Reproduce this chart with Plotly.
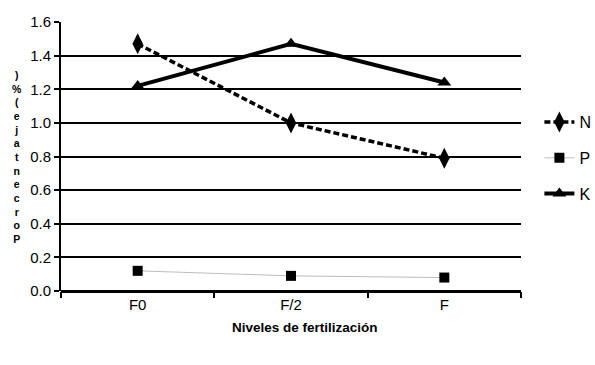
import plotly.graph_objects as go

categories = ["F0", "F/2", "F"]
n_vals = [1.47, 1.00, 0.79]
p_vals = [0.12, 0.09, 0.08]
k_vals = [1.22, 1.47, 1.24]
y_ticks = [0.0, 0.2, 0.4, 0.6, 0.8, 1.0, 1.2, 1.4, 1.6]
y_tick_labels = ["0.0", "0.2", "0.4", "0.6", "0.8", "1.0", "1.2", "1.4", "1.6"]
y_title = "Porcentaje (%)"
x_title = "Niveles de fertilización"

fig = go.Figure()
fig.add_trace(go.Scatter(x=categories, y=n_vals, name="N", mode="lines+markers", legendgroup="n",
                         line=dict(color="black", width=3.5, dash="6px,3px"),
                         marker=dict(symbol="diamond-tall", size=15, color="black")))
fig.add_trace(go.Scatter(x=categories, y=p_vals, name="P", mode="lines+markers", legendgroup="p",
                         line=dict(color="#bdbdbd", width=1),
                         marker=dict(symbol="square", size=10, color="black")))
fig.add_trace(go.Scatter(x=categories, y=k_vals, name="K", mode="lines+markers", legendgroup="k",
                         line=dict(color="black", width=4),
                         marker=dict(symbol="triangle-up", size=12, color="black")))

fig.update_layout(
    width=595, height=365,
    margin=dict(l=61, r=74, t=22, b=74, autoexpand=False),
    paper_bgcolor="white", plot_bgcolor="white",
    font=dict(family="Liberation Sans, Arial, sans-serif", size=15, color="black"),
    showlegend=True,
    legend=dict(x=1.04, y=0.494, xanchor="left", yanchor="middle",
                font=dict(size=16), tracegroupgap=12, itemwidth=30,
                bgcolor="rgba(0,0,0,0)"),
)
fig.update_xaxes(type="category", range=[-0.5, 2.5], tickson="boundaries",
                 ticks="outside", ticklen=6, tickcolor="black", tickwidth=1.5,
                 ticklabelstandoff=3,
                 showline=False, showgrid=False, zeroline=False,
                 tickfont=dict(size=15))
fig.update_yaxes(range=[0, 1.6], tickvals=y_ticks, ticktext=y_tick_labels,
                 showgrid=True, gridcolor="black", gridwidth=2,
                 showline=True, linecolor="black", linewidth=2,
                 ticks="outside", ticklen=5, tickcolor="black", tickwidth=2,
                 zeroline=True, zerolinecolor="black", zerolinewidth=2.5,
                 tickfont=dict(size=15))

# x-axis title (slightly right of centre, as in the original)
fig.add_annotation(text="<b>" + x_title + "</b>", xref="paper", yref="paper",
                   x=(305 - 61) / 460, y=-(327 - 291) / 269,
                   xanchor="center", yanchor="middle", showarrow=False,
                   font=dict(size=13.5, color="black"))

# stacked vertical title (letters upright, read bottom to top)
chars = [c for c in reversed(y_title) if c != " "]
fig.add_annotation(text="<b>" + "<br>".join(chars) + "</b>", xref="paper", yref="paper",
                   x=(17 - 61) / 460, y=1 - (157 - 22) / 269,
                   xanchor="center", yanchor="middle", showarrow=False, align="center",
                   font=dict(size=10.5, color="black"))

fig.write_html("out.html")
